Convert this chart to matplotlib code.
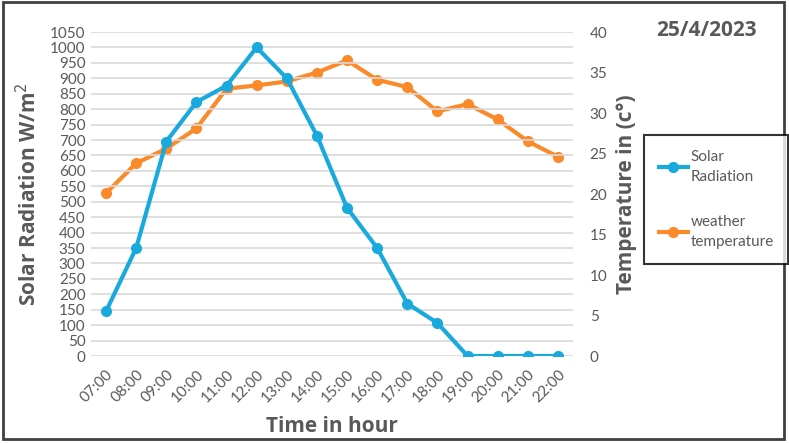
import matplotlib.pyplot as plt
from matplotlib.patches import Rectangle

hours = ["07:00", "08:00", "09:00", "10:00", "11:00", "12:00", "13:00", "14:00",
         "15:00", "16:00", "17:00", "18:00", "19:00", "20:00", "21:00", "22:00"]
solar = [145, 350, 695, 823, 876, 1000, 900, 714, 480, 350, 170, 107, 0, 0, 0, 0]
temperature = [20.1, 23.8, 25.6, 28.1, 33.0, 33.4, 33.9, 35.0, 36.5, 34.1, 33.2,
               30.2, 31.1, 29.2, 26.5, 24.6]

grey = "#595959"
blue = "#1aa9dc"
orange = "#fb8a2a"
plt.rcParams["font.family"] = ["Lato", "DejaVu Sans"]
bold = dict(color=grey, fontsize=15, fontweight="bold", family=["Open Sans", "DejaVu Sans"])

fig = plt.figure(figsize=(7.89, 4.43), dpi=100)
ax = fig.add_axes([91/789, (443-356)/443, (573-91)/789, (356-32)/443])
ax2 = ax.twinx()

x = range(len(hours))
l1, = ax.plot(x, solar, color=blue, lw=3, marker="o", ms=7, label="Solar\nRadiation", zorder=3)
l2, = ax2.plot(x, temperature, color=orange, lw=3, marker="o", ms=7, label="weather\ntemperature")
ax.set_zorder(ax2.get_zorder() + 1)
ax.patch.set_visible(False)

ax.set_xlim(-0.5, len(hours) - 0.5)
ax.set_ylim(0, 1050)
ax.set_yticks(range(0, 1051, 50))
ax2.set_ylim(0, 40)
ax2.set_yticks(range(0, 41, 5))
ax.set_xticks(list(x))
ax.set_xticklabels(hours, rotation=45, ha="right", rotation_mode="anchor")

ax.grid(axis="y", color="#d9d9d9", lw=1.2)
ax.set_axisbelow(True)
for a in (ax, ax2):
    for s in a.spines.values():
        s.set_visible(False)
    a.tick_params(length=0, colors=grey, labelsize=11)
ax.tick_params(axis="x", pad=8)
ax.tick_params(axis="y", pad=4)
ax2.tick_params(axis="y", pad=12)

ax.set_xlabel("Time in hour", labelpad=8, **bold)
ax.set_ylabel("Solar Radiation W/m$^2$", labelpad=6, **bold)
ax2.set_ylabel("Temperature in (c°)", labelpad=6, **bold)

fig.text(706/789, 1 - 31/443, "25/4/2023", ha="center", va="center", **bold)

leg = fig.legend(handles=[l1, l2], loc="upper left", bbox_to_anchor=(644/789, 1 - 135/443),
                 frameon=True, fancybox=False, edgecolor="black", fontsize=11,
                 labelcolor=grey, handlelength=1.9, labelspacing=2.0, borderpad=0.95,
                 handletextpad=0.2, borderaxespad=0)
for t in leg.get_texts():
    t.set_linespacing(1.6)
leg.get_frame().set_linewidth(1.5)

fig.patches.append(Rectangle((0.004, 0.01), 0.99, 0.985, transform=fig.transFigure,
                             fill=False, edgecolor="#404040", lw=2))

fig.savefig("out.png", dpi=100)
